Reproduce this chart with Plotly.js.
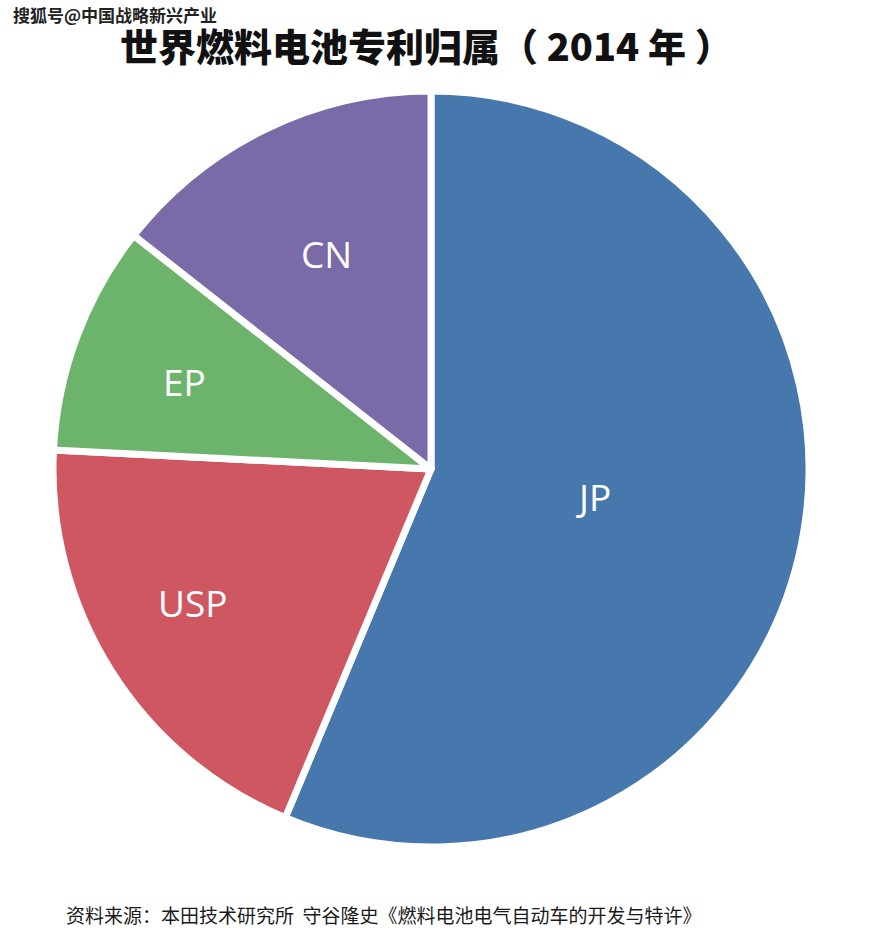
<!DOCTYPE html>
<html>
<head>
<meta charset="utf-8">
<script src="https://cdn.plot.ly/plotly-3.0.1.min.js"></script>
<style>html,body{margin:0;padding:0;background:#fff;}#chart{width:879px;height:933px;}</style>
</head>
<body>
<div id="chart"></div>
<script>
const categories = ["JP", "USP", "EP", "CN"];
const shares = [56.3, 19.5, 9.8, 14.4];
const sliceColors = ["#4677ad", "#cf5761", "#6cb46b", "#7a6aa7"];
const titleText = "世界燃料电池专利归属（ 2014 年 ）";
const sourceText = "资料来源：本田技术研究所  守谷隆史《燃料电池电气自动车的开发与特许》";
const watermarkText = "搜狐号@中国战略新兴产业";
// style: how far from the centre (fraction of radius) each label sits, and a small angular nudge (deg)
const labelRadiusFrac = [0.44, 0.73, 0.70, 0.64];
const labelAngleNudge = [-1.6, 3.0, -1.0, 0];

const W = 879, H = 933;
const cx = 431, cy = 469, R = 378;
const trace = {
  type: "pie",
  labels: categories,
  values: shares,
  sort: false,
  direction: "clockwise",
  rotation: 0,
  marker: { colors: sliceColors, line: { color: "#ffffff", width: 7 } },
  textinfo: "none",
  hoverinfo: "label+percent",
  domain: { x: [(cx - R) / W, (cx + R) / W], y: [(H - cy - R) / H, (H - cy + R) / H] },
  showlegend: false
};

// slice labels placed at each slice's mid-angle, derived from the values
const total = shares.reduce((a, b) => a + b, 0);
let cum = 0;
const labelAnnotations = categories.map((name, i) => {
  const mid = (cum + shares[i] / 2) / total * 2 * Math.PI + labelAngleNudge[i] * Math.PI / 180;
  cum += shares[i];
  const rr = (R - 4) * labelRadiusFrac[i];
  const px = cx + rr * Math.sin(mid);
  const py = cy - rr * Math.cos(mid);
  return {
    text: name, xref: "paper", yref: "paper",
    x: px / W, y: 1 - py / H, xanchor: "center", yanchor: "middle", showarrow: false,
    font: { family: "Open Sans, sans-serif", size: 37, color: "#ffffff" }
  };
});

const layout = {
  width: W, height: H,
  margin: { l: 0, r: 0, t: 0, b: 0 },
  paper_bgcolor: "#ffffff",
  showlegend: false,
  title: {
    text: titleText,
    font: { family: "Noto Sans CJK SC, sans-serif", size: 38, color: "#111111", weight: 900 },
    x: 0.485, xanchor: "center", y: 1 - 48 / H, yanchor: "middle"
  },
  annotations: [
    {
      text: watermarkText, xref: "paper", yref: "paper",
      x: 12 / W, y: 1 - 15 / H, xanchor: "left", yanchor: "middle", showarrow: false,
      borderpad: 0,
      font: { family: "Noto Sans CJK SC, sans-serif", size: 17, color: "#222222", weight: "bold" }
    },
    {
      text: sourceText, xref: "paper", yref: "paper",
      x: 64 / W, y: 1 - 914 / H, xanchor: "left", yanchor: "middle", showarrow: false,
      font: { family: "Noto Sans CJK SC, sans-serif", size: 19, color: "#1a1a1a" }
    }
  ].concat(labelAnnotations)
};

Plotly.newPlot("chart", [trace], layout, { displayModeBar: false, staticPlot: true });
</script>
</body>
</html>
